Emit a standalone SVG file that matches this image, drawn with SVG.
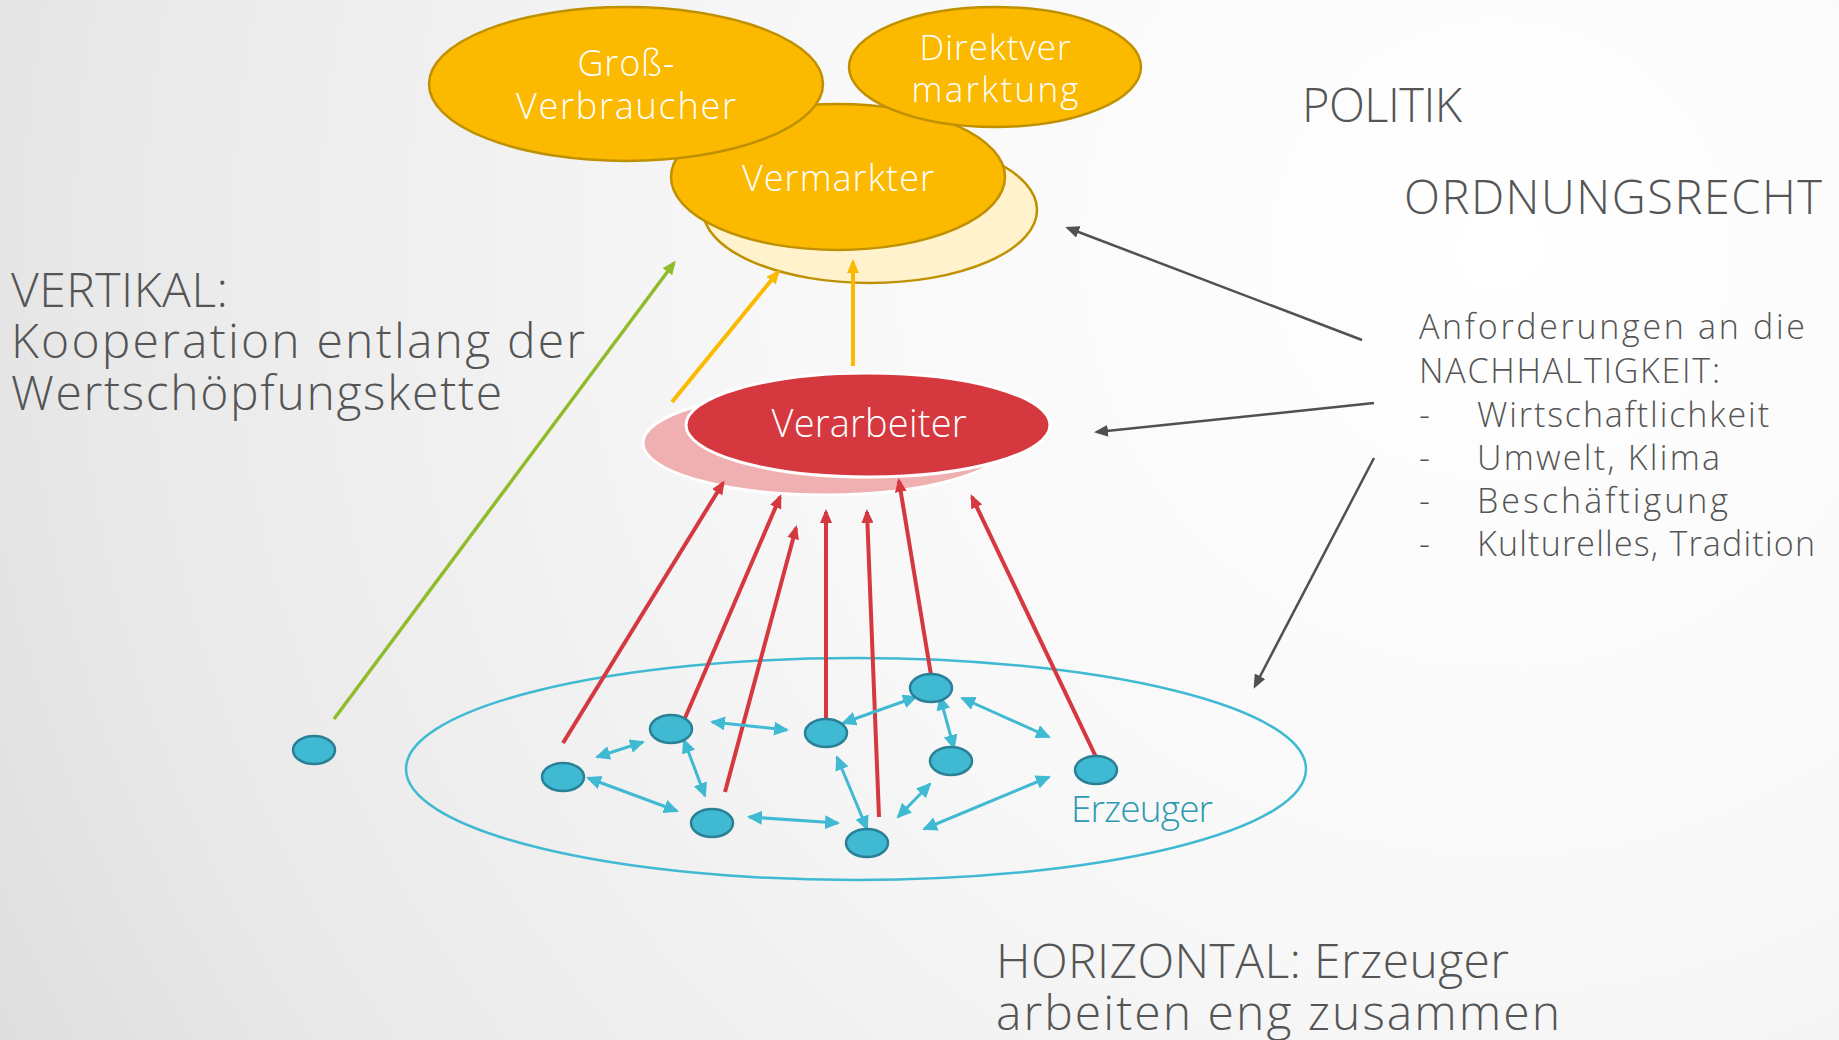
<svg xmlns="http://www.w3.org/2000/svg" width="1839" height="1040" viewBox="0 0 1839 1040">
<defs>
<radialGradient id="bg" gradientUnits="userSpaceOnUse" cx="1500" cy="250" r="1750">
<stop offset="0" stop-color="#ffffff"/>
<stop offset="0.4" stop-color="#f8f8f8"/>
<stop offset="0.8" stop-color="#e9e9e9"/>
<stop offset="1" stop-color="#dcdcdc"/>
</radialGradient>
<marker id="mRed" viewBox="0 0 14 12" refX="11" refY="6" markerWidth="14" markerHeight="12" markerUnits="userSpaceOnUse" orient="auto"><path d="M0,0 L14,6 L0,12 z" fill="#d5383f"/></marker>
<marker id="mGray" viewBox="0 0 14 12" refX="11" refY="6" markerWidth="14" markerHeight="12" markerUnits="userSpaceOnUse" orient="auto"><path d="M0,0 L14,6 L0,12 z" fill="#505050"/></marker>
<marker id="mGreen" viewBox="0 0 14 12" refX="11" refY="6" markerWidth="14" markerHeight="12" markerUnits="userSpaceOnUse" orient="auto"><path d="M0,0 L14,6 L0,12 z" fill="#8fbc2b"/></marker>
<marker id="mOrange" viewBox="0 0 14 12" refX="11" refY="6" markerWidth="14" markerHeight="12" markerUnits="userSpaceOnUse" orient="auto"><path d="M0,0 L14,6 L0,12 z" fill="#fbb900"/></marker>
<marker id="mTeal" viewBox="0 0 15 14" refX="13" refY="7" markerWidth="15" markerHeight="14" markerUnits="userSpaceOnUse" orient="auto-start-reverse"><path d="M0,0 L15,7 L0,14 z" fill="#40b9d3"/></marker>
</defs>
<style>
text{font-family:"Open Sans","Liberation Sans",sans-serif;font-weight:300}
.gray{fill:#555555}
.white{fill:#ffffff}
.gold{fill:#fbb900;stroke:#bf9000;stroke-width:2.5}
.dot{fill:#40b9d3;stroke:#2a8197;stroke-width:2.5}
.red{stroke:#d5383f;stroke-width:4;fill:none;marker-end:url(#mRed)}
.grayl{stroke:#505050;stroke-width:2.5;fill:none;marker-end:url(#mGray)}
.teal{stroke:#40b9d3;stroke-width:3;fill:none;marker-start:url(#mTeal);marker-end:url(#mTeal)}
</style>
<rect x="0" y="0" width="1839" height="1040" fill="url(#bg)"/>

<g id="erzeuger-area">
<ellipse cx="856" cy="769" rx="450" ry="111" fill="none" stroke="#40b9d3" stroke-width="2.5"/>
<text x="1071" y="822" font-size="37" fill="#2e9ab0" textLength="142">Erzeuger</text>
</g>

<g id="vermarkter">
<ellipse cx="870" cy="210" rx="167" ry="73" fill="#fff2cc" stroke="#bf9000" stroke-width="2.5"/>
<ellipse cx="838" cy="177" rx="167" ry="73" class="gold"/>
<text x="838" y="191" font-size="36" class="white" text-anchor="middle" textLength="192">Vermarkter</text>
</g>
<g id="grossverbraucher">
<ellipse cx="626" cy="84" rx="197" ry="77" class="gold"/>
<text x="626" y="76" font-size="36" class="white" text-anchor="middle" textLength="97">Groß-</text>
<text x="626" y="119" font-size="36" class="white" text-anchor="middle" textLength="220">Verbraucher</text>
</g>
<g id="direktvermarktung">
<ellipse cx="995" cy="67" rx="146" ry="60" class="gold"/>
<text x="995" y="60" font-size="35" class="white" text-anchor="middle" textLength="151">Direktver</text>
<text x="995" y="102" font-size="35" class="white" text-anchor="middle" textLength="167">marktung</text>
</g>

<g id="verarbeiter">
<ellipse cx="825" cy="443" rx="182" ry="52" fill="#f0b0b2" stroke="#ffffff" stroke-width="3"/>
<ellipse cx="868" cy="425" rx="182" ry="52" fill="#d5383f" stroke="#ffffff" stroke-width="3"/>
<text x="869" y="437" font-size="38" class="white" text-anchor="middle" textLength="195">Verarbeiter</text>
</g>

<g id="connectors">
<line x1="334" y1="719" x2="674" y2="263" stroke="#8fbc2b" stroke-width="3.5" marker-end="url(#mGreen)"/>
<line x1="672" y1="402" x2="778" y2="272" stroke="#fbb900" stroke-width="4" marker-end="url(#mOrange)"/>
<line x1="853" y1="366" x2="853" y2="262" stroke="#fbb900" stroke-width="4" marker-end="url(#mOrange)"/>
<line x1="1362" y1="340" x2="1068" y2="228" class="grayl"/>
<line x1="1374" y1="403" x2="1097" y2="432" class="grayl"/>
<line x1="1374" y1="458" x2="1255" y2="686" class="grayl"/>
<line x1="563" y1="743" x2="723" y2="483" class="red"/>
<line x1="685" y1="718" x2="780" y2="497" class="red"/>
<line x1="725" y1="792" x2="796" y2="528" class="red"/>
<line x1="826" y1="720" x2="826" y2="512" class="red"/>
<line x1="879" y1="817" x2="867" y2="512" class="red"/>
<line x1="931" y1="675" x2="899" y2="481" class="red"/>
<line x1="1096" y1="757" x2="972" y2="497" class="red"/>
<line x1="597" y1="757" x2="643" y2="742" class="teal"/>
<line x1="588" y1="778" x2="677" y2="811" class="teal"/>
<line x1="684" y1="740" x2="705" y2="796" class="teal"/>
<line x1="712" y1="722" x2="787" y2="730" class="teal"/>
<line x1="749" y1="817" x2="838" y2="823" class="teal"/>
<line x1="843" y1="723" x2="916" y2="697" class="teal"/>
<line x1="940" y1="697" x2="954" y2="748" class="teal"/>
<line x1="962" y1="698" x2="1049" y2="737" class="teal"/>
<line x1="837" y1="757" x2="867" y2="829" class="teal"/>
<line x1="898" y1="817" x2="930" y2="784" class="teal"/>
<line x1="924" y1="829" x2="1049" y2="777" class="teal"/>
</g>

<g id="producers">
<ellipse cx="314" cy="750" rx="21" ry="14" class="dot"/>
<ellipse cx="563" cy="777" rx="21" ry="14" class="dot"/>
<ellipse cx="671" cy="729" rx="21" ry="14" class="dot"/>
<ellipse cx="712" cy="823" rx="21" ry="14" class="dot"/>
<ellipse cx="826" cy="733" rx="21" ry="14" class="dot"/>
<ellipse cx="931" cy="688" rx="21" ry="14" class="dot"/>
<ellipse cx="951" cy="761" rx="21" ry="14" class="dot"/>
<ellipse cx="867" cy="843" rx="21" ry="14" class="dot"/>
<ellipse cx="1096" cy="770" rx="21" ry="14" class="dot"/>
</g>

<g id="label-vertikal" class="gray">
<text x="11" y="307" font-size="48" textLength="217">VERTIKAL:</text>
<text x="11" y="358" font-size="48" textLength="574">Kooperation entlang der</text>
<text x="11" y="410" font-size="48" textLength="491">Wertschöpfungskette</text>
</g>
<g id="label-politik" class="gray">
<text x="1302" y="122" font-size="47" textLength="160">POLITIK</text>
<text x="1404" y="214" font-size="47" textLength="418">ORDNUNGSRECHT</text>
</g>
<g id="label-nachhaltigkeit" class="gray">
<text x="1419" y="339" font-size="34" textLength="386">Anforderungen an die</text>
<text x="1419" y="383" font-size="34" textLength="301">NACHHALTIGKEIT:</text>
<text x="1419" y="427" font-size="34">-</text>
<text x="1477" y="427" font-size="34" textLength="292">Wirtschaftlichkeit</text>
<text x="1419" y="470" font-size="34">-</text>
<text x="1477" y="470" font-size="34" textLength="243">Umwelt, Klima</text>
<text x="1419" y="513" font-size="34">-</text>
<text x="1477" y="513" font-size="34" textLength="251">Beschäftigung</text>
<text x="1419" y="556" font-size="34">-</text>
<text x="1477" y="556" font-size="34" textLength="338">Kulturelles, Tradition</text>
</g>
<g id="label-horizontal" class="gray">
<text x="996" y="978" font-size="48" textLength="513">HORIZONTAL: Erzeuger</text>
<text x="996" y="1030" font-size="48" textLength="564">arbeiten eng zusammen</text>
</g>
</svg>
